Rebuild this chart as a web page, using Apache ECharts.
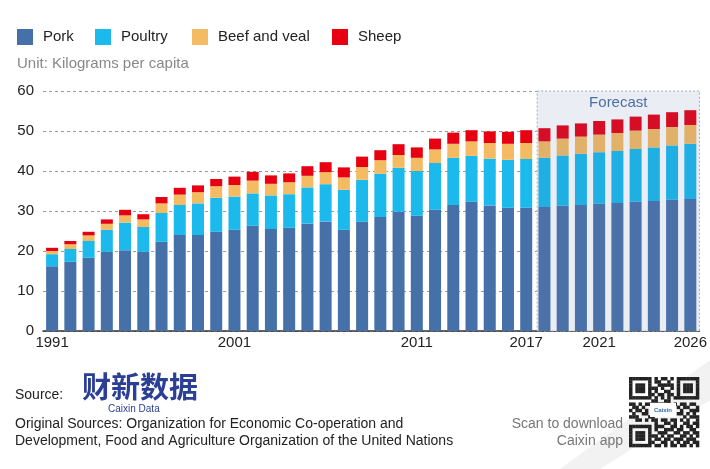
<!DOCTYPE html>
<html>
<head>
<meta charset="utf-8">
<script src="https://cdn.jsdelivr.net/npm/echarts@6/dist/echarts.min.js"></script>
<style>
html,body{margin:0;padding:0;background:#fff;}
#c{width:710px;height:469px;}
</style>
</head>
<body>
<div id="c"></div>
<script>
const years = ['1991','1992','1993','1994','1995','1996','1997','1998','1999','2000',
  '2001','2002','2003','2004','2005','2006','2007','2008','2009','2010',
  '2011','2012','2013','2014','2015','2016','2017','2018','2019','2020',
  '2021','2022','2023','2024','2025','2026'];
const tickYears = ['1991','2001','2011','2017','2021','2026'];
const forecastStart = '2018';

const pork = [16.2,17.3,18.3,19.8,20.2,19.8,22.3,24.0,24.0,24.8,
  25.3,26.3,25.5,25.8,26.9,27.4,25.3,27.3,28.5,29.8,
  28.8,30.3,31.5,32.3,31.4,30.8,30.8,31.0,31.3,31.5,
  31.8,32.0,32.3,32.5,32.8,33.0];
const poultry = [3.0,3.2,4.2,5.5,6.9,6.2,7.2,7.5,7.9,8.5,
  8.3,8.1,8.4,8.4,9.0,9.3,10.0,10.5,10.8,11.0,
  11.2,11.7,11.8,11.5,11.7,12.0,12.2,12.3,12.6,12.8,
  12.9,13.0,13.2,13.4,13.6,13.8];
const beef = [0.8,1.2,1.4,1.5,1.8,1.9,2.4,2.6,2.8,2.9,
  2.9,3.2,2.9,3.0,2.9,3.0,3.1,3.2,3.4,3.2,
  3.3,3.4,3.5,3.6,3.9,4.0,4.0,4.1,4.2,4.3,
  4.4,4.5,4.6,4.6,4.6,4.7];
const sheep = [0.8,0.8,0.9,1.1,1.4,1.3,1.6,1.7,1.7,1.8,
  2.1,2.2,2.1,2.2,2.4,2.5,2.5,2.6,2.5,2.7,
  2.6,2.7,2.8,2.8,2.9,3.0,3.2,3.3,3.3,3.3,
  3.4,3.4,3.5,3.6,3.7,3.7];
const yTicks = [0,10,20,30,40,50,60];

const names = ['Pork','Poultry','Beef and veal','Sheep'];
const colors = ['#4670a8','#1bb9ec','#f4bb62','#e60012'];
const forecastColors = ['#4a71a8','#1fafe2','#e1b069','#d50d25'];
const values = [pork, poultry, beef, sheep];
const fIdx = years.indexOf(forecastStart);

const chart = echarts.init(document.getElementById('c'), null, {renderer:'canvas'});
const FONT = 'Liberation Sans, Arial, sans-serif';

const series = names.map((n, si) => ({
  name: n,
  type: 'bar',
  stack: 'total',
  barWidth: 12,
  itemStyle: {color: colors[si]},
  data: values[si].map((v, i) => i >= fIdx ? {value: v, itemStyle: {color: forecastColors[si]}} : v)
}));
// forecast band on a hidden index axis (bar edge of the first forecast year to the plot end)
series.unshift({
  name: 'forecast-band',
  type: 'scatter',
  xAxisIndex: 1,
  symbolSize: 0,
  silent: true,
  data: [],
  markArea: {
    silent: true,
    itemStyle: {color: '#eaeef4', borderColor: '#aaaaaa', borderWidth: 1, borderType: [2,2]},
    label: {show: true, position: 'insideTop', distance: 5, color: '#4b6fa5', fontFamily: FONT, fontSize: 15, formatter: 'Forecast'},
    data: [[{xAxis: fIdx - 0.4, yAxis: yTicks[yTicks.length-1]}, {xAxis: years.length - 0.5, yAxis: yTicks[0]}]]
  }
});

const legendLefts = [17, 95, 192, 332];
const legends = names.map((n, i) => ({
  data: [n], left: legendLefts[i], top: 29, itemWidth: 16, itemHeight: 16,
  icon: 'rect', selectedMode: false, padding: 0,
  textStyle: {fontFamily: FONT, fontSize: 15, color: '#222', padding: [0,0,0,5]}
}));

// QR-like decoration
const qrPattern = [
  '1111111010110101111111',
  '1000001011001001000001',
  '1011101001111101011101',
  '1011101110100101011101',
  '1011101010011001011101',
  '1000001101101101000001',
  '1111111010101011111111',
  '0000000110011000000000',
  '1101011001101010110110',
  '0110100100000001011001',
  '1011010100000000100111',
  '0100110000000001101010',
  '1110001100000000010111',
  '0011010110110110101001',
  '0000000010011010011011',
  '1111111011100110101101',
  '1000001010011101100110',
  '1011101001110011011011',
  '1011101110101100110101',
  '1011101011011011101110',
  '1000001100110101011011',
  '1111111011010110110101'
];
const qrX = 629, qrY = 377, cell = 70 / 22;
const qrRects = [];
qrPattern.forEach((row, r) => {
  for (let c = 0; c < row.length; c++) {
    if (row[c] === '1') qrRects.push({type:'rect', shape:{x: qrX + c*cell, y: qrY + r*cell, width: cell+0.3, height: cell+0.3}, style:{fill:'#222'}, silent:true});
  }
});

const option = {
  animation: false,
  backgroundColor: '#fff',
  textStyle: {fontFamily: FONT},
  legend: legends,
  grid: {left: 43, right: 10, top: 91, bottom: 138, containLabel: false},
  xAxis: [{
    type: 'category',
    data: years,
    axisLine: {lineStyle: {color: '#333', width: 1.5}},
    axisTick: {show: false},
    axisLabel: {
      interval: (i, v) => tickYears.includes(v),
      color: '#222', fontSize: 15, fontFamily: FONT, margin: 4
    }
  }, {
    type: 'value', show: false, min: -0.5, max: years.length - 0.5,
    splitLine: {show: false}
  }],
  yAxis: {
    type: 'value', min: yTicks[0], max: yTicks[yTicks.length-1], interval: 10,
    axisLine: {show: false}, axisTick: {show: false},
    axisLabel: {color: '#222', fontSize: 15, fontFamily: FONT, margin: 9},
    splitLine: {lineStyle: {color: '#999', type: [3,3], width: 1}}
  },
  series: series,
  graphic: [
    {type:'polygon', silent:true, z:-10, shape:{points:[[560,469],[600,469],[710,400],[710,360]]}, style:{fill:'#f2f2f2'}},
    {type:'text', left: 17, top: 56, style:{text:'Unit: Kilograms per capita', fill:'#888', font:'15px ' + FONT}},
    {type:'text', left: 15, top: 388, style:{text:'Source:', fill:'#222', font:'14px ' + FONT}},
    {type:'text', left: 82, top: 372, style:{text:'财新数据', fill:'#2b3f95', font:'bold 29px "Noto Sans CJK SC"'}},
    {type:'text', left: 108, top: 404, style:{text:'Caixin Data', fill:'#2b3f95', font:'10px ' + FONT}},
    {type:'text', left: 15, top: 417, style:{text:'Original Sources: Organization for Economic Co-operation and', fill:'#222', font:'14px ' + FONT}},
    {type:'text', left: 15, top: 434, style:{text:'Development, Food and Agriculture Organization of the United Nations', fill:'#222', font:'14px ' + FONT}},
    {type:'text', right: 87, top: 417, style:{text:'Scan to download', fill:'#777', font:'14px ' + FONT, align:'right'}},
    {type:'text', right: 87, top: 434, style:{text:'Caixin app', fill:'#777', font:'14px ' + FONT, align:'right'}},
    {type:'group', children: qrRects},
    {type:'rect', shape:{x:650, y:403, width:26, height:14}, style:{fill:'#fff'}, silent:true},
    {type:'text', x:663, y:410, style:{text:'Caixin', fill:'#2b6fb5', font:'bold 6px ' + FONT, align:'center', verticalAlign:'middle'}}
  ]
};
chart.setOption(option);
</script>
</body>
</html>
